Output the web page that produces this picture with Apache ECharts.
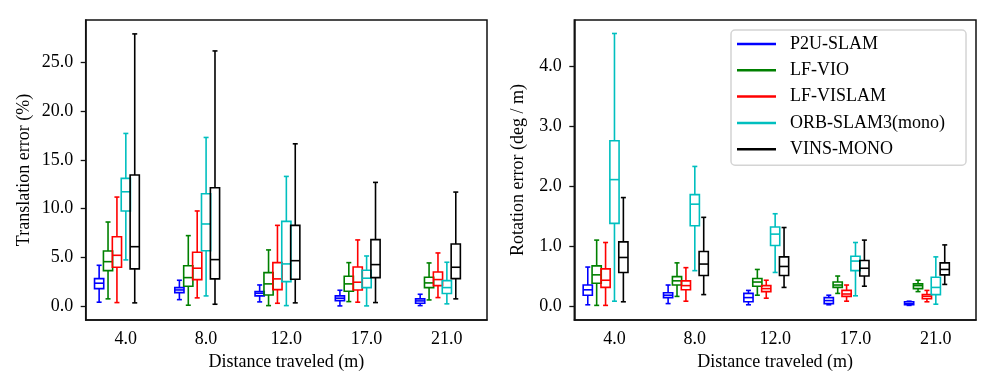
<!DOCTYPE html>
<html>
<head>
<meta charset="utf-8">
<script src="https://cdn.jsdelivr.net/npm/echarts@6/dist/echarts.min.js"></script>
<style>
  html, body { margin: 0; background: #fff; }
  #main { width: 996px; height: 389px; }
</style>
</head>
<body>
<div id="main"></div>
<script>
// categories and series names
var distances = ['4.0', '8.0', '12.0', '17.0', '21.0'];
var methods = ['P2U-SLAM', 'LF-VIO', 'LF-VISLAM', 'ORB-SLAM3(mono)', 'VINS-MONO'];
var colors = ['#0000ff', '#008000', '#ff0000', '#00bfbf', '#000000'];

// tick labels
var transTicks = [0, 5, 10, 15, 20, 25];
var rotTicks = [0, 1, 2, 3, 4];

// translation error (%) : [min, q1, median, q3, max] per distance
var transP2U   = [[0.45, 1.84, 2.39, 2.86, 4.22], [0.71, 1.43, 1.70, 1.94, 2.69], [0.48, 1.09, 1.36, 1.53, 2.21], [0.07, 0.61, 0.86, 1.09, 1.67], [0.10, 0.34, 0.58, 0.79, 1.26]];
var transLFVIO = [[0.79, 3.67, 4.59, 5.68, 8.64], [0.14, 2.08, 2.96, 4.18, 7.25], [0.10, 1.19, 2.32, 3.47, 5.79], [0.51, 1.57, 2.32, 3.10, 4.49], [0.68, 1.94, 2.42, 3.00, 4.46]];
var transLFVISLAM = [[0.41, 4.02, 5.24, 7.14, 11.19], [0.89, 2.76, 3.92, 5.55, 9.77], [0.34, 1.73, 2.83, 4.49, 8.30], [0.45, 1.70, 2.49, 4.05, 6.81], [0.92, 2.14, 2.76, 3.54, 5.48]];
var transORB   = [[4.77, 9.77, 11.73, 13.10, 17.69], [1.09, 5.71, 8.44, 11.53, 17.28], [0.10, 2.55, 4.36, 8.71, 13.30], [0.07, 1.94, 2.90, 3.71, 5.17], [0.28, 1.33, 1.94, 2.65, 4.53]];
var transVINS  = [[0.38, 3.85, 6.12, 13.44, 27.86], [0.24, 2.83, 4.80, 12.14, 26.12], [0.38, 2.79, 4.69, 8.30, 16.63], [0.41, 2.96, 4.29, 6.84, 12.69], [0.79, 2.86, 4.02, 6.40, 11.70]];

// rotation error (deg / m)
var rotP2U   = [[0.02, 0.18, 0.27, 0.35, 0.65], [0.04, 0.14, 0.18, 0.22, 0.35], [0.02, 0.07, 0.14, 0.21, 0.26], [0.02, 0.04, 0.09, 0.14, 0.18], [0.01, 0.02, 0.04, 0.07, 0.08]];
var rotLFVIO = [[0.01, 0.38, 0.52, 0.67, 1.10], [0.16, 0.35, 0.42, 0.49, 0.72], [0.18, 0.33, 0.40, 0.46, 0.61], [0.21, 0.31, 0.35, 0.40, 0.50], [0.24, 0.29, 0.34, 0.37, 0.43]];
var rotLFVISLAM = [[0.01, 0.31, 0.43, 0.62, 1.06], [0.08, 0.27, 0.34, 0.42, 0.64], [0.13, 0.24, 0.29, 0.34, 0.43], [0.08, 0.16, 0.20, 0.26, 0.35], [0.07, 0.12, 0.16, 0.19, 0.26]];
var rotORB   = [[0.08, 1.38, 2.11, 2.76, 4.55], [0.59, 1.34, 1.70, 1.86, 2.33], [0.56, 1.01, 1.20, 1.32, 1.54], [0.17, 0.59, 0.75, 0.83, 1.06], [0.03, 0.19, 0.31, 0.48, 0.82]];
var rotVINS  = [[0.07, 0.56, 0.81, 1.07, 1.81], [0.19, 0.51, 0.70, 0.91, 1.48], [0.31, 0.51, 0.66, 0.82, 1.31], [0.33, 0.50, 0.63, 0.76, 1.10], [0.36, 0.52, 0.61, 0.72, 1.02]];

var transData = [transP2U, transLFVIO, transLFVISLAM, transORB, transVINS];
var rotData = [rotP2U, rotLFVIO, rotLFVISLAM, rotORB, rotVINS];

var FONT = 'Liberation Serif';
var offsets = [-26.7, -17.8, -8.9, 0, 8.9];  // px shift of each method inside a group
var BOX_W = 9.2, CAP_W = 5, LW = 1.6;

function boxRenderer(offset) {
  return function (params, api) {
    var ci = api.value(0);
    var x = api.coord([ci, 0])[0] + offset;
    var y = [1, 2, 3, 4, 5].map(function (d) { return api.coord([ci, api.value(d)])[1]; });
    var c = api.visual('color');
    var st = { stroke: c, lineWidth: LW, fill: null };
    var h = BOX_W / 2, k = CAP_W / 2;
    return {
      type: 'group',
      children: [
        { type: 'line', shape: { x1: x, y1: y[0], x2: x, y2: y[1] }, style: st },
        { type: 'line', shape: { x1: x, y1: y[3], x2: x, y2: y[4] }, style: st },
        { type: 'line', shape: { x1: x - k, y1: y[0], x2: x + k, y2: y[0] }, style: st },
        { type: 'line', shape: { x1: x - k, y1: y[4], x2: x + k, y2: y[4] }, style: st },
        { type: 'rect', shape: { x: x - h, y: y[3], width: BOX_W, height: y[1] - y[3] }, style: { stroke: c, lineWidth: LW, fill: 'none' } },
        { type: 'line', shape: { x1: x - h, y1: y[2], x2: x + h, y2: y[2] }, style: st }
      ]
    };
  };
}

function makeSeries(dataSets, axisIdx) {
  return methods.map(function (name, m) {
    return {
      name: name,
      type: 'custom',
      xAxisIndex: axisIdx,
      yAxisIndex: axisIdx,
      itemStyle: { color: colors[m] },
      renderItem: boxRenderer(offsets[m]),
      encode: { x: 0, y: [1, 2, 3, 4, 5] },
      data: dataSets[m].map(function (b, i) { return [i].concat(b); })
    };
  });
}

var txt = { fontFamily: FONT, fontSize: 18, color: '#000' };

function xAxisCfg(gi) {
  return {
    type: 'category', gridIndex: gi, data: distances,
    name: 'Distance traveled (m)', nameLocation: 'middle', nameGap: 33,
    nameTextStyle: txt,
    axisLine: { show: true, onZero: false, lineStyle: { color: '#111', width: 1.5 } },
    axisTick: { alignWithLabel: true, length: 5, lineStyle: { color: '#111', width: 1.3 } },
    axisLabel: Object.assign({ margin: 10 }, txt),
    splitLine: { show: false }
  };
}

function yAxisCfg(gi, name, min, max, ticks, gap) {
  return {
    type: 'value', gridIndex: gi, min: min, max: max,
    name: name, nameLocation: 'middle', nameGap: gap, nameTextStyle: txt,
    axisLine: { show: true, onZero: false, lineStyle: { color: '#111', width: 1.5 } },
    axisTick: { show: true, length: 5, customValues: ticks, lineStyle: { color: '#111', width: 1.3 } },
    axisLabel: Object.assign({ margin: 12.5, customValues: ticks, formatter: function (v) { return v.toFixed(1); } }, txt),
    splitLine: { show: false }
  };
}

var chart = echarts.init(document.getElementById('main'));
chart.setOption({
  animation: false,
  color: colors,
  grid: [
    { left: 85.7, top: 20, width: 401.3, height: 300, show: true, borderColor: '#111', borderWidth: 1.5 },
    { left: 574.3, top: 20, width: 401.7, height: 300, show: true, borderColor: '#111', borderWidth: 1.5 }
  ],
  xAxis: [xAxisCfg(0), xAxisCfg(1)],
  yAxis: [
    yAxisCfg(0, 'Translation error (%)', -1.37, 29.28, transTicks, 52),
    yAxisCfg(1, 'Rotation error (deg / m)', -0.234, 4.775, rotTicks, 47)
  ],
  legend: {
    data: methods,
    orient: 'vertical',
    left: 731, top: 30,
    padding: [4, 21, 6, 6],
    icon: 'rect', itemWidth: 39, itemHeight: 2.5, itemGap: 6.3,
    selectedMode: false,
    textStyle: Object.assign({ lineHeight: 20, padding: [0, 0, 0, 9] }, txt),
    backgroundColor: 'rgba(255,255,255,0.8)',
    borderColor: '#d4d4d4', borderWidth: 1.5, borderRadius: 4
  },
  series: makeSeries(transData, 0).concat(makeSeries(rotData, 1))
});
</script>
</body>
</html>
